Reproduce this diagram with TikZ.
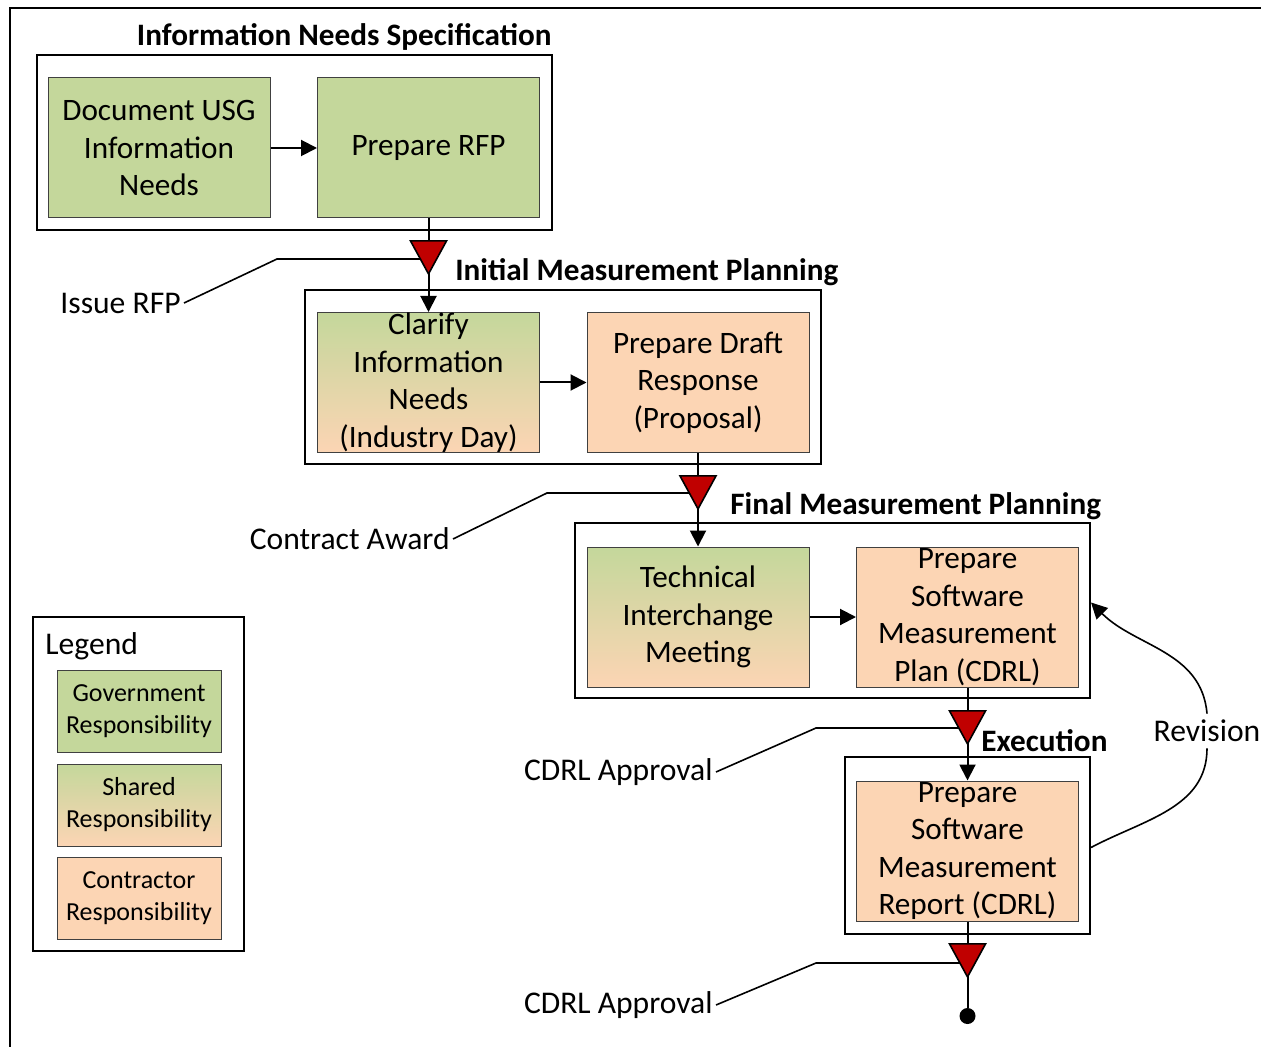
\documentclass[tikz,border=0pt]{standalone}
\usepackage{fontspec}
\setmainfont{Carlito}
\usetikzlibrary{arrows.meta,shapes.geometric}

\definecolor{govgreen}{HTML}{C4D79B}
\definecolor{conpeach}{HTML}{FCD5B4}
\definecolor{gatered}{HTML}{C00000}

\tikzset{
  task/.style={draw=black!75, line width=0.5pt, minimum width=111pt, minimum height=70pt,
    text width=108pt, align=flush center, inner sep=0pt, font=\fontsize{15.6}{18.8}\selectfont},
  gov/.style={task, fill=govgreen},
  shared/.style={task, top color=govgreen, bottom color=conpeach},
  contr/.style={task, fill=conpeach},
  key/.style={draw=black!75, line width=0.5pt, minimum width=82pt, minimum height=41pt,
    text width=80pt, align=flush center, inner sep=0pt, font=\fontsize{13}{16}\selectfont},
  frame/.style={draw, line width=1pt, inner sep=0pt},
  title/.style={font=\bfseries\fontsize{15.6}{18}\selectfont, inner sep=0pt},
  gate/.style={isosceles triangle, isosceles triangle stretches, shape border rotate=-90,
    draw, fill=gatered, line width=0.8pt, minimum width=18pt, minimum height=16.5pt, inner sep=0pt},
  flow/.style={line width=1pt, -{Triangle[length=8pt, width=8pt]}},
  callout/.style={line width=0.8pt},
  milestone/.style={font=\fontsize{15.8}{19}\selectfont, inner sep=1.5pt},
}

\begin{document}
\begin{tikzpicture}[x=0.5pt, y=-0.5pt]
    \useasboundingbox (0,0) rectangle (1261,1047);

    % --- Outer border ---
    \draw[line width=1pt] (10,1047) -- (10,8) -- (1261,8);

    % --- Phase frames ---
    \node[frame, minimum width=257.5pt, minimum height=87.5pt] (f1) at (294.5,142.5) {};
    \node[frame, minimum width=258pt, minimum height=87pt] (f2) at (563,377) {};
    \node[frame, minimum width=257.5pt, minimum height=87.5pt] (f3) at (832.5,610.5) {};
    \node[frame, minimum width=122.5pt, minimum height=88.5pt] (f4) at (967.5,845.5) {};

    % --- Phase titles ---
    \node[title, anchor=east] (t1) at (552,37) {Information Needs Specification};
    \node[title, anchor=west] (t2) at (455,272) {Initial Measurement Planning};
    \node[title, anchor=west] (t3) at (730,506) {Final Measurement Planning};
    \node[title, anchor=west] (t4) at (981,741) {Execution};

    % --- Activities ---
    \node[gov] (doc) at (159,148) {Document USG\\Information\\Needs};
    \node[gov] (rfp) at (428.5,148) {Prepare RFP};
    \node[shared] (clarify) at (428.5,382.5) {Clarify\\Information\\Needs\\(Industry Day)};
    \node[contr] (draft) at (698,382.5) {Prepare Draft\\Response\\(Proposal)};
    \node[shared] (tim) at (698,617) {Technical\\Interchange\\Meeting};
    \node[contr] (plan) at (967.5,617) {Prepare\\Software\\Measurement\\Plan (CDRL)};
    \node[contr] (report) at (967.5,851) {Prepare\\Software\\Measurement\\Report (CDRL)};
    \node[circle, fill, minimum size=8pt, inner sep=0pt] (done) at (967.5,1016) {};

    % --- Flow ---
    \draw[flow] (doc) -- (rfp);
    \draw[flow] (clarify) -- (draft);
    \draw[flow] (tim) -- (plan);
    \draw[flow] (rfp.south) -- (clarify.north);
    \draw[flow] (draft.south) -- (tim.north);
    \draw[flow] (plan.south) -- (report.north);
    \draw[line width=1pt] (report.south) -- (done);

    % --- Milestone labels (lines run into the gates) ---
    \coordinate (m1) at (428.5,259);
    \coordinate (m2) at (698,493);
    \coordinate (m3) at (967.5,728);
    \coordinate (m4) at (967.5,963);
    \node[milestone, anchor=east] (issue) at (184,303) {Issue RFP};
    \node[milestone, anchor=east] (award) at (453,539) {Contract Award};
    \node[milestone, anchor=east] (appr1) at (716,772) {CDRL Approval};
    \node[milestone, anchor=east] (appr2) at (716,1005) {CDRL Approval};
    \draw[callout] (issue.east) -- (277,0 |- m1) -- (m1);
    \draw[callout] (award.east) -- (547,0 |- m2) -- (m2);
    \draw[callout] (appr1.east) -- (816,0 |- m3) -- (m3);
    \draw[callout] (appr2.east) -- (816,0 |- m4) -- (m4);

    % --- Milestone gates ---
    \node[gate, anchor=apex] (g1) at (428.5,276) {};
    \node[gate, anchor=apex] (g2) at (698,511) {};
    \node[gate, anchor=apex] (g3) at (967.5,746) {};
    \node[gate, anchor=apex] (g4) at (967.5,979) {};

    % --- Revision loop ---
    \node[milestone, inner sep=3pt] (rev) at (1207,731) {Revision};
    \draw[callout] ([yshift=-1pt]f4.east) to[out=28, in=-90] (rev.south);
    \draw[callout, -{Triangle[length=8pt, width=8pt]}] (rev.north) to[out=95, in=-45] ([yshift=4pt]f3.east);

    % --- Legend ---
    \node[frame, minimum width=105.5pt, minimum height=167pt] (legend) at (138.5,784) {};
    \node[milestone, anchor=west, inner sep=0pt] (legtitle) at (45,646) {Legend};
    \node[key, fill=govgreen] (kgov) at (139,711) {Government\\Responsibility};
    \node[key, top color=govgreen, bottom color=conpeach] (kshared) at (139,805) {Shared\\Responsibility};
    \node[key, fill=conpeach] (kcontr) at (139,898) {Contractor\\Responsibility};

\end{tikzpicture}
\end{document}
